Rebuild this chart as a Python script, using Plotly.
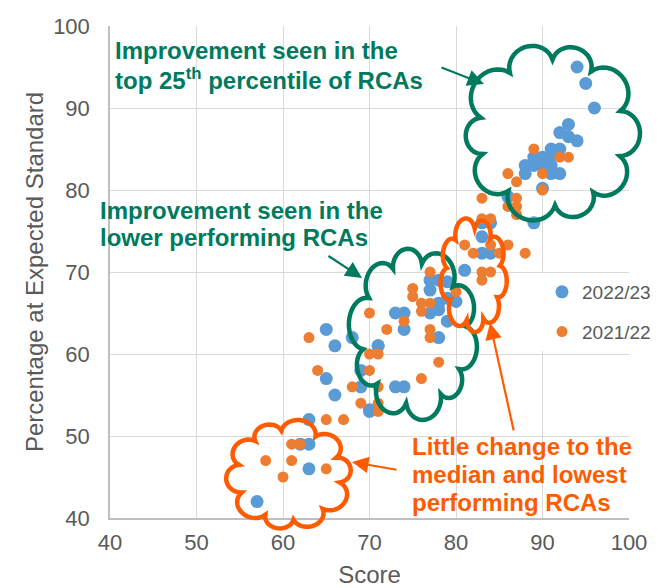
import numpy as np
import plotly.graph_objects as go

# ---------------- data ----------------
years = ["2022/23", "2021/22"]

score_2223 = [57, 63, 62, 63, 63, 65, 66, 65, 66, 68,
              71, 69, 69, 70, 73, 74, 73, 74, 74, 77,
              78, 79, 77, 78, 77, 78, 79, 79, 78, 80,
              83, 83, 84, 81, 83, 84, 86, 89, 90, 88,
              89, 88, 91, 90, 91, 92, 89, 90, 91, 91,
              92, 92, 93, 93, 94, 96, 95, 94, 71, 70]
pct_2223 = [42, 46, 49, 49, 52, 57, 55, 63, 61, 62,
            61, 58, 56, 53, 56, 56, 65, 65, 63, 69,
            69, 68.8, 67.8, 66.2, 65, 65.4, 66.8, 64, 62, 66.4,
            74.3, 72.3, 72.3, 70.2, 76, 76, 79.2, 76, 80.2, 82,
            83, 83, 83, 83, 82, 82, 84, 84, 84, 85,
            85, 87, 88, 86.5, 86, 90, 93, 95, 61, 53.2]

score_2122 = [60, 58, 61, 65, 61, 62, 65, 67, 63, 64,
              68, 69, 71, 71, 70, 71, 70, 70, 72, 74,
              71, 76, 78, 77, 77, 75, 75, 76, 77, 76,
              77, 80, 81, 82, 84, 85, 83, 84, 83, 86,
              88, 83, 84, 87, 86, 87, 83, 87, 86, 87,
              90, 90, 89, 92, 93]
pct_2122 = [45, 47, 47, 46, 49, 49, 52, 52, 62, 58,
            56, 54, 53, 54, 60, 60, 58, 65, 63, 64,
            56, 57, 59, 63, 62, 68, 67, 66.2, 66.2, 65.2,
            70, 67.6, 73.3, 72.3, 73.3, 72.3, 70, 70, 69, 73.3,
            72.3, 76.5, 76.5, 77, 78, 78, 79, 79, 82, 81,
            80, 82, 85, 84, 84]

x_ticks = [40, 50, 60, 70, 80, 90, 100]
y_ticks = [40, 50, 60, 70, 80, 90, 100]

# ---------------- layout constants ----------------
OFF = 8                      # default page margin of the html body
W, H = 666 - OFF, 588 - OFF
ML, MR, MT, MB = 110 - OFF, 37, 26 - OFF, 70
PW, PH = W - ML - MR, H - MT - MB

BLUE = "#5B9BD5"
ORANGE = "#ED7D31"
GREEN = "#007A5E"
RED_OR = "#FF5B00"
GREY = "#595959"
FONT = "Liberation Sans, Arial, sans-serif"


def px2paper(x, y):
    # x, y: pixel position in the final page
    return (x - OFF - ML) / PW, (OFF + H - MB - y) / PH


def cloud_path(x0, x1, y0, y1, n, bulge=0.45, phase=0.0, weights=None):
    cx, cy = (x0 + x1) / 2, (y0 + y1) / 2
    Rx, Ry = (x1 - x0) / 2, (y1 - y0) / 2
    if weights is None:
        weights = [1] * n
    w = np.array(weights, float)
    ang = np.concatenate([[0], np.cumsum(w)]) / w.sum() * 2 * np.pi + phase
    half = np.pi / n
    r = 1 / (np.cos(half) + 2 * bulge * np.sin(half))
    pts = []
    for k in range(n):
        a0, a1 = ang[k], ang[k + 1]
        p0 = np.array([r * np.cos(a0), r * np.sin(a0)])
        p1 = np.array([r * np.cos(a1), r * np.sin(a1)])
        c = np.linalg.norm(p1 - p0)
        u = (p1 - p0) / c
        nrm = np.array([u[1], -u[0]])
        for t in np.linspace(0, 1, 18):
            q = (p0 + p1) / 2 - u * (c / 2) * np.cos(np.pi * t) + nrm * bulge * c * np.sin(np.pi * t)
            pts.append((cx + Rx * q[0], cy - Ry * q[1]))
    s = []
    for i, (x, y) in enumerate(pts):
        px_, py_ = px2paper(x, y)
        s.append(("M" if i == 0 else "L") + f"{px_:.5f},{py_:.5f}")
    return " ".join(s) + " Z"


fig = go.Figure()
fig.add_trace(go.Scatter(x=score_2223, y=pct_2223, mode="markers", name=years[0],
                         legendgroup="a",
                         marker=dict(color=BLUE, size=13, line=dict(width=0))))
fig.add_trace(go.Scatter(x=score_2122, y=pct_2122, mode="markers", name=years[1],
                         legendgroup="b",
                         marker=dict(color=ORANGE, size=11, line=dict(width=0))))

clouds = [
    (463, 640, 43, 222, 10, GREEN, [1.1, 0.9, 1.0, 1.2, 0.8, 1.0, 1.1, 0.9, 1.0, 1.0], 0.3),
    (350, 478, 247, 420, 10, GREEN, [1.0, 1.1, 0.9, 1.0, 1.2, 0.9, 1.0, 1.1, 0.8, 1.0], 0.1),
    (440, 507, 217, 333, 9, RED_OR, [1.0, 0.9, 1.1, 1.0, 1.0, 1.1, 0.9, 1.0, 1.0], 0.2),
    (226, 352, 420, 530, 10, RED_OR, [1.0, 1.1, 0.9, 1.0, 1.0, 1.1, 0.9, 1.0, 1.1, 0.9], 0.4),
]
shapes = []
for x0, x1, y0, y1, n, col, wts, ph in clouds:
    shapes.append(dict(type="path", xref="paper", yref="paper",
                       path=cloud_path(x0, x1, y0, y1, n, 0.45, ph, wts),
                       line=dict(color=col, width=4.5), fillcolor="rgba(0,0,0,0)",
                       layer="above"))

annotations = []


def text(x, y, s, col):
    px_, py_ = px2paper(x, y)
    annotations.append(dict(x=px_, y=py_, xref="paper", yref="paper", text=s,
                            showarrow=False, xanchor="left", yanchor="middle",
                            font=dict(family=FONT, size=24, color=col)))


def arrow(tx, ty, sx, sy, col):
    px_, py_ = px2paper(tx, ty)
    annotations.append(dict(x=px_, y=py_, xref="paper", yref="paper", text="",
                            showarrow=True, ax=sx - tx, ay=sy - ty,
                            arrowhead=2, arrowsize=1.5, arrowwidth=2.2, arrowcolor=col))


text(113, 50, "<b>Improvement seen in the</b>", GREEN)
text(113, 79, "<b>top 25<sup>th</sup> percentile of RCAs</b>", GREEN)
text(98, 210, "<b>Improvement seen in the</b>", GREEN)
text(98, 237, "<b>lower performing RCAs</b>", GREEN)
text(410, 446, "<b>Little change to the</b>", RED_OR)
text(410, 474, "<b>median and lowest</b>", RED_OR)
text(410, 502, "<b>performing RCAs</b>", RED_OR)

arrow(484, 84, 440, 67, GREEN)
arrow(362, 278, 327, 255, GREEN)
arrow(352, 462, 398, 470, RED_OR)
arrow(490, 323, 514, 432, RED_OR)

lx, ly = px2paper(542, 273)

fig.update_layout(
    width=W, height=H,
    margin=dict(l=ML, r=MR, t=MT, b=MB, autoexpand=False),
    paper_bgcolor="white", plot_bgcolor="white",
    font=dict(family=FONT, color=GREY),
    showlegend=True,
    legend=dict(x=lx, y=ly, xanchor="left", yanchor="top", bgcolor="white",
                font=dict(family=FONT, size=19, color=GREY),
                traceorder="grouped", tracegroupgap=12, itemwidth=30),
    shapes=shapes,
    annotations=annotations,
    xaxis=dict(range=[40, 100], tickvals=x_ticks, showgrid=True, gridcolor="#D9D9D9",
               gridwidth=1.3, showline=True, linecolor="#BFBFBF", linewidth=1.5,
               zeroline=False, ticks="", tickfont=dict(size=22, color=GREY),
               ticklabelstandoff=4,
               title=dict(text="Score", font=dict(size=24, color=GREY), standoff=20)),
    yaxis=dict(range=[40, 100], tickvals=y_ticks, showgrid=True, gridcolor="#D9D9D9",
               gridwidth=1.3, showline=True, linecolor="#BFBFBF", linewidth=1.5,
               zeroline=False, ticks="", tickfont=dict(size=22, color=GREY),
               ticklabelstandoff=14,
               title=dict(text="Percentage at Expected Standard",
                          font=dict(size=24, color=GREY), standoff=3)),
)

fig.write_html("out.html")
